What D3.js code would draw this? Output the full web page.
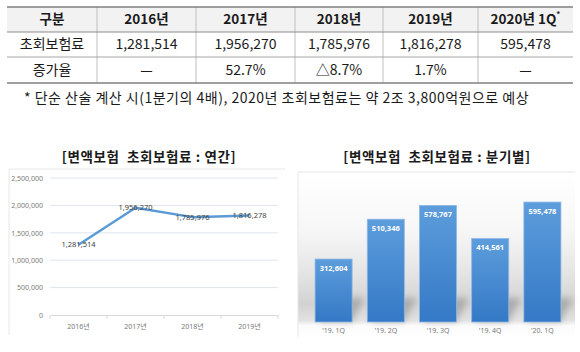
<!DOCTYPE html>
<html><head><meta charset="utf-8">
<script src="https://cdn.jsdelivr.net/npm/d3@7"></script>
<style>
body{margin:0;background:#fff;}
svg{display:block;font-family:"Noto Sans CJK KR","Noto Sans",sans-serif;}
</style></head>
<body><svg id="c" width="580" height="352"></svg>
<script>
// ---------- data ----------
const tableHeader = ["구분","2016년","2017년","2018년","2019년","2020년 1Q"];
const tableRow1 = ["초회보험료","1,281,514","1,956,270","1,785,976","1,816,278","595,478"];
const tableRow2 = ["증가율","—","52.7%","△8.7%","1.7%","—"];
const footnote = "* 단순 산술 계산 시(1분기의 4배), 2020년 초회보험료는 약 2조 3,800억원으로 예상";

const lineTitle = "[변액보험  초회보험료 : 연간]";
const years = ["2016년","2017년","2018년","2019년"];
const annualValues = [1281514,1956270,1785976,1816278];
const annualTicks = [0,500000,1000000,1500000,2000000,2500000];

const barTitle = "[변액보험  초회보험료 : 분기별]";
const quarters = ["'19. 1Q","'19. 2Q","'19. 3Q","'19. 4Q","'20. 1Q"];
const quarterValues = [312604,510346,578767,414561,595478];

// ---------- drawing ----------
const svg = d3.select("#c");
const defs = svg.append("defs");
const fmt = d3.format(",");

// table
const colX = [7,97,196,295,383,478,573];
const rowY = [7,32,57,83];
const tbl = svg.append("g");
tbl.append("rect").attr("x",colX[0]).attr("y",rowY[0]).attr("width",colX[6]-colX[0]).attr("height",rowY[1]-rowY[0]).attr("fill","#f2f2f2");
for(let i=1;i<colX.length-1;i++){
  tbl.append("line").attr("x1",colX[i]).attr("x2",colX[i]).attr("y1",rowY[0]).attr("y2",rowY[3]).attr("stroke","#bfbfbf").attr("stroke-width",1);
}
[[0,"#7f7f7f",1.5],[1,"#8c8c8c",1.2],[2,"#a6a6a6",1],[3,"#7f7f7f",1.5]].forEach(([r,c,w])=>{
  tbl.append("line").attr("x1",colX[0]).attr("x2",colX[6]).attr("y1",rowY[r]).attr("y2",rowY[r]).attr("stroke",c).attr("stroke-width",w);
});
[tableHeader,tableRow1,tableRow2].forEach((row,ri)=>{
  row.forEach((t,ci)=>{
    const cx=(colX[ci]+colX[ci+1])/2, cy=(rowY[ri]+rowY[ri+1])/2;
    const tx = tbl.append("text").attr("x",cx).attr("y",cy).attr("dy","0.35em")
      .attr("text-anchor","middle").attr("font-size",ri===0?13.5:14)
      .attr("font-weight",ri===0?"bold":"normal").attr("fill","#1a1a1a").text(t);
    if(ri===0 && ci===5){
      tx.append("tspan").attr("font-size",8).attr("dy","-0.9em").text("*");
    }
  });
});
svg.append("text").attr("x",24).attr("y",98).attr("dy","0.35em").attr("font-size",14).attr("letter-spacing",0.5).attr("fill","#1a1a1a").text(footnote);

// ---------- line chart ----------
svg.append("text").attr("x",149).attr("y",157).attr("dy","0.35em").attr("text-anchor","middle")
  .attr("font-size",13.5).attr("letter-spacing",0.6).attr("font-weight","bold").attr("fill","#1a1a1a").attr("xml:space","preserve").text(lineTitle);
svg.append("path").attr("d","M9,335V169H285").attr("fill","none").attr("stroke","#e8e8e8");

const xL = d3.scaleBand().domain(years).range([50,278]);
const yL = d3.scaleLinear().domain([0,2500000]).range([315,178]);
const gL = svg.append("g");
gL.append("g").selectAll("line").data(annualTicks.slice(1)).join("line")
  .attr("x1",50).attr("x2",278).attr("y1",d=>yL(d)).attr("y2",d=>yL(d)).attr("stroke","#dfe5ee").attr("stroke-width",1);
const yAxis = gL.append("g").attr("transform","translate(50,0)")
  .call(d3.axisLeft(yL).tickValues(annualTicks).tickFormat(fmt).tickSize(0).tickPadding(7));
yAxis.select(".domain").remove();
yAxis.selectAll("text").attr("font-size",7).attr("fill","#7a7a7a").attr("font-family","'Noto Sans',sans-serif");
const xAxis = gL.append("g").attr("transform","translate(0,315)")
  .call(d3.axisBottom(xL).tickSize(0).tickPadding(9));
xAxis.select(".domain").attr("stroke","#d9d9d9");
xAxis.selectAll("text").attr("font-size",7).attr("fill","#7a7a7a").attr("font-family","'Noto Sans','Noto Sans CJK KR',sans-serif");
gL.append("g").selectAll("line").data(xL.domain().concat(["end"])).join("line")
  .attr("x1",(d,i)=>i<years.length?xL(d):xL.range()[1]).attr("x2",(d,i)=>i<years.length?xL(d):xL.range()[1])
  .attr("y1",315).attr("y2",319).attr("stroke","#d9d9d9");
const line = d3.line().x((d,i)=>xL(years[i])+xL.bandwidth()/2).y(d=>yL(d));
gL.append("path").datum(annualValues).attr("d",line).attr("fill","none").attr("stroke","#5b9bd5").attr("stroke-width",2.5).attr("stroke-linejoin","round");
gL.append("g").selectAll("text").data(annualValues).join("text")
  .attr("x",(d,i)=>xL(years[i])+xL.bandwidth()/2).attr("y",d=>yL(d)).attr("dy","0.35em")
  .attr("text-anchor","middle").attr("font-size",7.5).attr("fill","#404040").attr("font-family","'Noto Sans',sans-serif")
  .text(d=>fmt(d));

// ---------- bar chart ----------
svg.append("text").attr("x",437).attr("y",157).attr("dy","0.35em").attr("text-anchor","middle")
  .attr("font-size",13.5).attr("letter-spacing",0.6).attr("font-weight","bold").attr("fill","#1a1a1a").attr("xml:space","preserve").text(barTitle);

const bg = defs.append("linearGradient").attr("id","bgG").attr("x1",0).attr("y1",0).attr("x2",0).attr("y2",1);
[[0,"#ffffff"],[0.35,"#f7f7f7"],[0.62,"#e4e4e4"],[0.8,"#d2d2d2"],[0.9,"#e2e2e2"],[0.93,"#fbfbfb"],[1,"#ffffff"]]
  .forEach(([o,c])=>bg.append("stop").attr("offset",o).attr("stop-color",c));
svg.append("rect").attr("x",298).attr("y",172).attr("width",277).attr("height",165).attr("fill","url(#bgG)");
svg.append("path").attr("d","M298,337V172H575").attr("fill","none").attr("stroke","#e6e6e6");

const barG = defs.append("linearGradient").attr("id","barG").attr("x1",0).attr("y1",0).attr("x2",0).attr("y2",1);
barG.append("stop").attr("offset",0).attr("stop-color","#5d9ddc");
barG.append("stop").attr("offset",1).attr("stop-color","#3479c6");
defs.append("filter").attr("id","blur").attr("x","-50%").attr("y","-50%").attr("width","200%").attr("height","200%")
  .append("feGaussianBlur").attr("stdDeviation",3);

const xB = d3.scaleBand().domain(quarters).range([307.5,568.5]).paddingInner(0.29).paddingOuter(0.145);
const yB = d3.scaleLinear().domain([0,700000]).range([322,181]);
const gB = svg.append("g");
// floor shadows
gB.append("g").selectAll("path").data(quarterValues).join("path")
  .attr("d",(d,i)=>{const x=xB(quarters[i]), w=xB.bandwidth(), b=yB(0);
    return `M${x+4},${b}L${x+w},${b}L${x+w+12},${b-24}L${x+16},${b-24}Z`;})
  .attr("fill","#8c8c8c").attr("opacity",0.55).attr("filter","url(#blur)");
gB.append("g").selectAll("rect").data(quarterValues).join("rect")
  .attr("x",(d,i)=>xB(quarters[i])).attr("y",d=>yB(d)).attr("width",xB.bandwidth()).attr("height",d=>yB(0)-yB(d))
  .attr("fill","url(#barG)").attr("stroke","#8fb8e6").attr("stroke-width",0.8);
gB.append("g").selectAll("text").data(quarterValues).join("text")
  .attr("x",(d,i)=>xB(quarters[i])+xB.bandwidth()/2).attr("y",d=>yB(d)+9).attr("dy","0.35em")
  .attr("text-anchor","middle").attr("font-size",7.5).attr("font-weight","bold").attr("fill","#ffffff").attr("font-family","'Noto Sans',sans-serif")
  .text(d=>fmt(d));
const xBA = gB.append("g").attr("transform","translate(0,322)").call(d3.axisBottom(xB).tickSize(0).tickPadding(6));
xBA.select(".domain").remove();
xBA.selectAll("text").attr("font-size",7).attr("fill","#7a7a7a").attr("font-family","'Noto Sans',sans-serif");
</script></body></html>
